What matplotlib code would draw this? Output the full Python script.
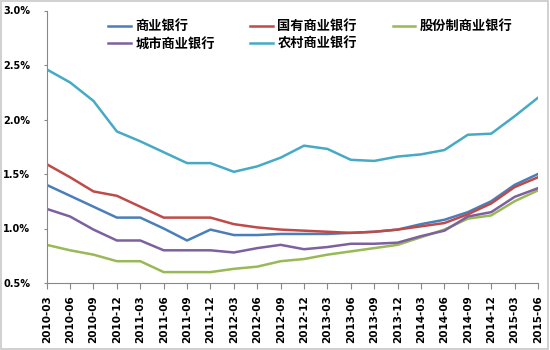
import numpy as np
import matplotlib
matplotlib.use('Agg')
import matplotlib.pyplot as plt
from matplotlib.patches import Rectangle

plt.rcParams['font.family'] = ['Noto Sans CJK SC', 'DejaVu Sans']

quarters = ['2010-03', '2010-06', '2010-09', '2010-12', '2011-03', '2011-06',
            '2011-09', '2011-12', '2012-03', '2012-06', '2012-09', '2012-12',
            '2013-03', '2013-06', '2013-09', '2013-12', '2014-03', '2014-06',
            '2014-09', '2014-12', '2015-03', '2015-06']

# non-performing loan ratio, %
commercial = [1.40, 1.30, 1.20, 1.10, 1.10, 1.00, 0.89, 0.99, 0.94, 0.94, 0.95,
              0.95, 0.95, 0.96, 0.97, 0.99, 1.04, 1.08, 1.15, 1.25, 1.40, 1.50]
state_owned = [1.59, 1.47, 1.34, 1.30, 1.20, 1.10, 1.10, 1.10, 1.04, 1.01, 0.99,
               0.98, 0.97, 0.96, 0.97, 0.99, 1.02, 1.05, 1.13, 1.23, 1.38, 1.47]
joint_stock = [0.85, 0.80, 0.76, 0.70, 0.70, 0.60, 0.60, 0.60, 0.63, 0.65, 0.70,
               0.72, 0.76, 0.79, 0.82, 0.85, 0.92, 0.99, 1.09, 1.12, 1.25, 1.35]
city = [1.18, 1.11, 0.99, 0.89, 0.89, 0.80, 0.80, 0.80, 0.78, 0.82, 0.85,
        0.81, 0.83, 0.86, 0.86, 0.87, 0.93, 0.98, 1.11, 1.15, 1.29, 1.37]
rural = [2.46, 2.34, 2.17, 1.89, 1.80, 1.70, 1.60, 1.60, 1.52, 1.57, 1.65,
         1.76, 1.73, 1.63, 1.62, 1.66, 1.68, 1.72, 1.86, 1.87, 2.03, 2.20]

series = [
    ('商业银行', commercial, '#4a7ebb'),
    ('国有商业银行', state_owned, '#be4b48'),
    ('股份制商业银行', joint_stock, '#98b954'),
    ('城市商业银行', city, '#7d60a0'),
    ('农村商业银行', rural, '#46aac5'),
]

fig = plt.figure(figsize=(5.5, 3.5), dpi=100)
ax = fig.add_axes([46.7 / 550, 1 - 283 / 350, (538 - 46.7) / 550, (283 - 10.5) / 350])

x = np.arange(len(quarters))
handles = []
for name, vals, col in series:
    h, = ax.plot(x, vals, color=col, lw=1.8, label=name)
    handles.append(h)

ax.set_xlim(0, len(quarters) - 1)
ax.set_ylim(0.5, 3.0)
yt = [0.5, 1.0, 1.5, 2.0, 2.5, 3.0]
ax.set_yticks(yt)
ax.set_yticklabels(['%.1f%%' % v for v in yt],
                   fontsize=7, fontweight='bold', family='DejaVu Sans')
ax.set_xticks(x)
ax.set_xticklabels(quarters, rotation=90, fontsize=7.5, fontweight='bold',
                   family='DejaVu Sans')

for s in ['top', 'right']:
    ax.spines[s].set_visible(False)
for s in ['left', 'bottom']:
    ax.spines[s].set_color('#888888')
    ax.spines[s].set_linewidth(0.8)
ax.tick_params(axis='y', length=2, color='#888888', pad=10)
ax.tick_params(axis='x', length=4, color='#888888', pad=5)

# legend: 2 rows x 3 columns, order as in the picture
order = [0, 3, 1, 4, 2]
leg = fig.legend([handles[i] for i in order], [series[i][0] for i in order],
                 ncol=3, loc='upper left', bbox_to_anchor=(99 / 550, 1 - 10 / 350),
                 frameon=False, prop={'size': 9.5, 'weight': 'bold'},
                 handlelength=1.7, handletextpad=0.35, columnspacing=2.7,
                 labelspacing=0.25, borderpad=0.2)

fig.patches.append(Rectangle((0.002, 0.004), 0.994, 0.992, transform=fig.transFigure,
                             fill=False, edgecolor='#c8c8c8', lw=1.2))

fig.savefig('out.png', dpi=100)
